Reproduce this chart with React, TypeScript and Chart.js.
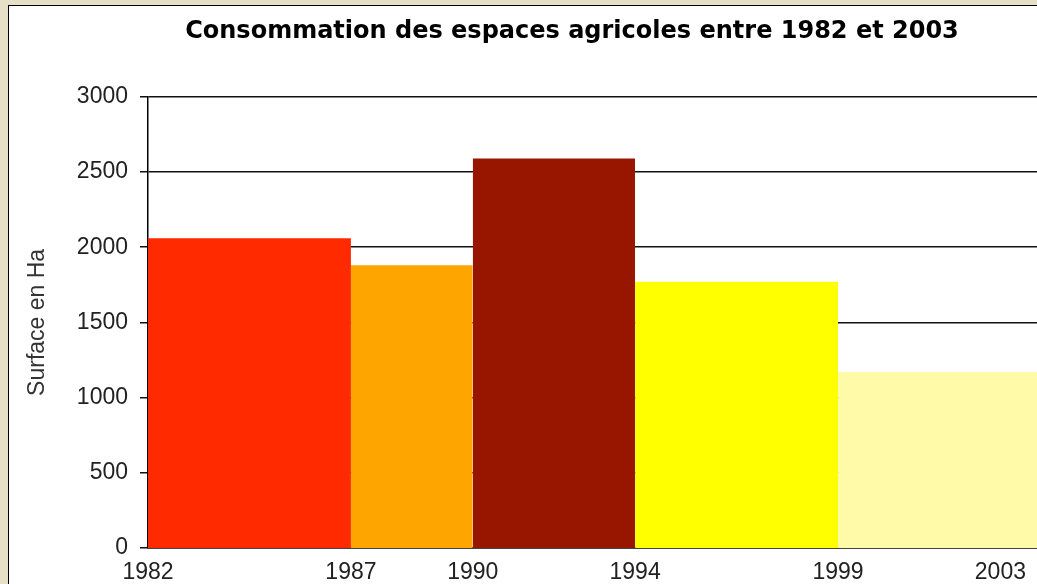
import React, { useEffect, useRef } from "react";
import { Chart, registerables } from "chart.js";

Chart.register(...registerables);

const TITLE = "Consommation des espaces agricoles entre 1982 et 2003";
const Y_TITLE = "Surface en Ha";
const periodStart = [1982, 1987, 1990, 1994, 1999];
const periodEnd = [1987, 1990, 1994, 1999, 2004];
const surfaces = [2060, 1880, 2590, 1770, 1170];
const colors = ["#FF2A00", "#FFA500", "#981600", "#FFFF00", "#FFFAA8"];
const tickYears = [1982, 1987, 1990, 1994, 1999, 2003];
const yTicks = [0, 500, 1000, 1500, 2000, 2500, 3000];

const titleShift = {
  id: "titleShift",
  afterLayout(chart: any) {
    const tb = chart.titleBlock;
    if (tb) {
      tb.left = 104;
      tb.right = 1040;
    }
  },
};

export default function App() {
  const ref = useRef<HTMLCanvasElement | null>(null);

  useEffect(() => {
    if (!ref.current) return;
    const datasets = surfaces.map((v, i) => ({
      label: `${periodStart[i]}-${periodEnd[i]}`,
      data: [
        { x: periodStart[i], y: v },
        { x: periodEnd[i], y: v },
      ],
      fill: "origin",
      backgroundColor: colors[i],
      borderWidth: 0,
      borderColor: colors[i],
      pointRadius: 0,
      tension: 0,
    }));
    const chart = new Chart(ref.current, {
      type: "line",
      data: { datasets: datasets as any },
      plugins: [titleShift],
      options: {
        animation: false,
        responsive: false,
        maintainAspectRatio: false,
        layout: { padding: { left: 0, right: 4, top: 0, bottom: 0 } },
        plugins: {
          legend: { display: false },
          tooltip: { enabled: false },
          title: {
            display: true,
            text: TITLE,
            color: "#000",
            font: { family: "DejaVu Sans", size: 24, weight: "bold" },
            padding: { top: 17, bottom: 51 },
          },
        },
        scales: {
          x: {
            type: "linear",
            min: 1982,
            max: 2004,
            afterBuildTicks: (scale: any) => {
              scale.ticks = tickYears.map((v) => ({ value: v }));
            },
            afterFit: (scale: any) => {
              scale.height = 36;
            },
            grid: { display: false, drawTicks: false },
            border: { display: true, color: "#000", width: 1.5 },
            ticks: {
              autoSkip: false,
              maxRotation: 0,
              padding: 11,
              color: "#222",
              font: { family: "Liberation Sans", size: 23 },
              callback: (v: any) => String(v),
            },
          },
          y: {
            min: 0,
            max: 3000,
            afterBuildTicks: (scale: any) => {
              scale.ticks = yTicks.map((v) => ({ value: v }));
            },
            afterFit: (scale: any) => {
              scale.width = 148;
            },
            grid: {
              color: "#111",
              lineWidth: 1.5,
              drawTicks: true,
              tickLength: 8,
            },
            border: { display: true, color: "#000", width: 1.5 },
            ticks: {
              padding: 12,
              color: "#222",
              font: { family: "Liberation Sans", size: 23 },
              callback: (v: any) => String(v),
            },
            title: {
              display: true,
              text: Y_TITLE,
              color: "#333",
              font: { family: "Liberation Sans", size: 23 },
              padding: { top: 24, bottom: 0 },
            },
          },
        },
      },
    });
    return () => chart.destroy();
  }, []);

  return (
    <div
      style={{
        position: "relative",
        width: 1037,
        height: 584,
        overflow: "hidden",
        background: "#E6E1C6",
      }}
    >
      <style>{"body{margin:0;overflow:hidden}"}</style>
      <div
        style={{
          position: "absolute",
          left: 8,
          top: 5,
          width: 1100,
          height: 700,
          background: "#fff",
          border: "1px solid #000",
        }}
      />
      <canvas
        ref={ref}
        width={1045}
        height={584}
        style={{ position: "absolute", left: 0, top: 0, width: 1045, height: 584 }}
      />
    </div>
  );
}
